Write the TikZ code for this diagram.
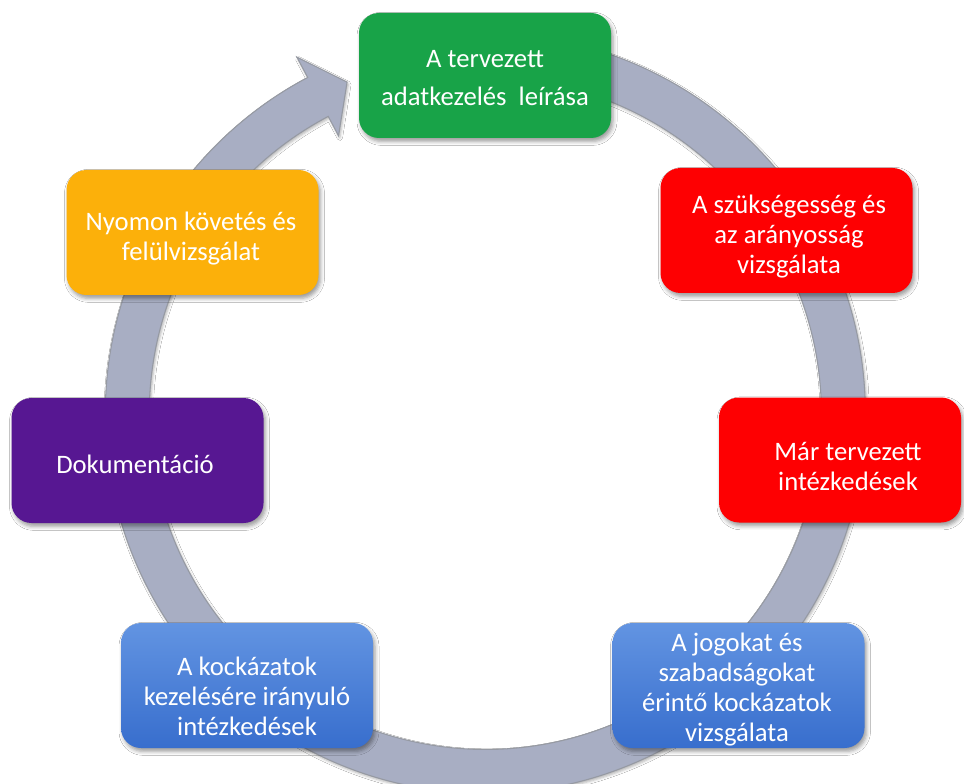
\documentclass[tikz,border=0pt]{standalone}
\usepackage{fontspec}
\setmainfont{Carlito}
\usetikzlibrary{shadows.blur}
\definecolor{ringfill}{RGB}{168,174,195}
\definecolor{ringline}{RGB}{150,154,163}
\definecolor{stgreen}{RGB}{24,163,72}
\definecolor{stred}{RGB}{254,0,2}
\definecolor{stpurple}{RGB}{87,23,146}
\definecolor{storange}{RGB}{252,176,10}
\definecolor{bluetop}{RGB}{98,148,226}
\definecolor{bluebot}{RGB}{56,110,205}
\begin{document}
\begin{tikzpicture}[x=0.75pt,y=0.75pt,
  stagebox/.style={rounded corners=15pt, minimum width=189pt, minimum height=93.75pt,
    draw=none, inner sep=0pt,
    blur shadow={shadow xshift=1.5pt, shadow yshift=-2.5pt, shadow blur radius=3pt, shadow opacity=40}},
  stagetext/.style={text=white, align=center, font=\fontsize{20}{22.5}\selectfont, inner sep=0pt}]
\useasboundingbox (0,0) rectangle (964,-784);
\fill[white] (0,0) rectangle (964,-784);
\coordinate (c) at (485.3,-413.4);
% cycle ring with arrow head
\begin{scope}[shift={(c)}]
\path[fill=ringfill, draw=ringline, line width=0.8pt,
      blur shadow={shadow xshift=1pt, shadow yshift=-1.5pt, shadow blur radius=2pt, shadow opacity=30}]
  (85:380) arc[start angle=85, end angle=-242.13, radius=380]
  -- (117.87:403) -- (112.65:359) -- (117.87:314) -- (117.87:336)
  arc[start angle=-242.13, end angle=85, radius=336] -- cycle;
\end{scope}
% boxes
\node[stagebox, fill=stgreen] (n1) at (485,-75.5) {};
\node[stagebox, fill=stred] (n2) at (786.5,-230.5) {};
\node[stagebox, fill=stred, minimum width=181.5pt] (n3) at (840,-460) {};
\node[stagebox, top color=bluetop, bottom color=bluebot] (n4) at (738.5,-685.5) {};
\node[stagebox, top color=bluetop, bottom color=bluebot] (n5) at (247,-685.5) {};
\node[stagebox, fill=stpurple] (n6) at (137.5,-460.5) {};
\node[stagebox, fill=storange] (n7) at (192.5,-232.5) {};
% texts
\node[stagetext] (t1) at (485,-78) {A tervezett\\[5.5pt]adatkezelés\ \ leírása};
\node[stagetext] (t2) at (789,-236.5) {A szükségesség és\\az arányosság\\vizsgálata};
\node[stagetext] (t3) at (848,-466.5) {Már tervezett\\intézkedések};
\node[stagetext] (t4) at (737,-689.5) {A jogokat és\\szabadságokat\\érintő kockázatok\\vizsgálata};
\node[stagetext] (t5) at (247,-696) {A kockázatok\\kezelésére irányuló\\intézkedések};
\node[stagetext] (t6) at (135,-464) {Dokumentáció};
\node[stagetext] (t7) at (191,-239) {Nyomon követés és\\felülvizsgálat};
\end{tikzpicture}
\end{document}
